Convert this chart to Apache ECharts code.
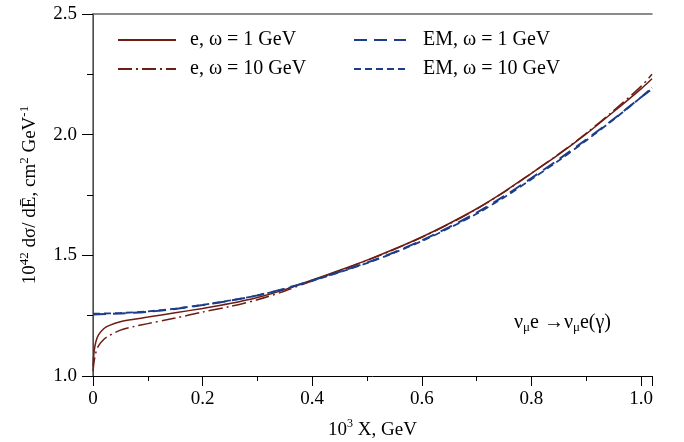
<!DOCTYPE html>
<html>
<head>
<meta charset="utf-8">
<script src="https://cdn.jsdelivr.net/npm/echarts@6/dist/echarts.min.js"></script>
<style>html,body{margin:0;padding:0;background:#fff}#c{width:684px;height:442px}</style>
</head>
<body>
<div id="c"></div>
<script>
// ---- data ----
var xE = [0, 0.002, 0.005, 0.01, 0.02, 0.03, 0.05, 0.075, 0.1, 0.15, 0.2, 0.25, 0.3, 0.35, 0.4, 0.45, 0.5, 0.55, 0.6, 0.65, 0.7, 0.75, 0.8, 0.85, 0.9, 0.95, 1.0, 1.02];
var e1 = [1.04, 1.10, 1.14, 1.17, 1.197, 1.21, 1.225, 1.235, 1.244, 1.262, 1.280, 1.300, 1.325, 1.358, 1.398, 1.438, 1.480, 1.526, 1.576, 1.632, 1.693, 1.763, 1.840, 1.918, 2.003, 2.095, 2.190, 2.232];
var e10 = [1.02, 1.06, 1.095, 1.125, 1.152, 1.168, 1.19, 1.205, 1.217, 1.240, 1.265, 1.288, 1.316, 1.352, 1.395, 1.436, 1.479, 1.525, 1.575, 1.630, 1.692, 1.762, 1.840, 1.920, 2.006, 2.100, 2.200, 2.250];
var xM = [0, 0.05, 0.1, 0.15, 0.2, 0.25, 0.3, 0.35, 0.4, 0.45, 0.5, 0.55, 0.6, 0.65, 0.7, 0.75, 0.8, 0.85, 0.9, 0.95, 1.0, 1.02];
var em1 = [1.255, 1.259, 1.266, 1.278, 1.294, 1.312, 1.334, 1.362, 1.396, 1.432, 1.470, 1.513, 1.562, 1.617, 1.677, 1.745, 1.820, 1.898, 1.980, 2.065, 2.155, 2.19];
var em10 = [1.258, 1.261, 1.268, 1.279, 1.295, 1.313, 1.334, 1.361, 1.394, 1.43, 1.468, 1.511, 1.559, 1.613, 1.672, 1.740, 1.815, 1.893, 1.976, 2.063, 2.155, 2.195];
var names = ['e, ω = 1 GeV', 'e, ω = 10 GeV', 'EM, ω = 1 GeV', 'EM, ω = 10 GeV'];
var xTicks = [0, 0.2, 0.4, 0.6, 0.8, 1.0];
var yTicks = [1.0, 1.5, 2.0, 2.5];

function pairs(xs, ys) { return xs.map(function (x, i) { return [x, ys[i]]; }); }

var FONT = 'Liberation Serif';
var RED = '#6e1d14', BLUE = '#1c3d8a';

var chart = echarts.init(document.getElementById('c'), null, {renderer: 'canvas'});
var lineSeries = function (name, data, color, type, width) {
  return {
    name: name, type: 'line', data: data, symbol: 'none', showSymbol: false, smooth: 0.3,
    xAxisIndex: 0, yAxisIndex: 0,
    lineStyle: {color: color, width: width, type: type}, itemStyle: {color: color},
    animation: false, z: 3
  };
};
chart.setOption({
  backgroundColor: '#fff',
  animation: false,
  grid: {left: 93, right: 32, top: 14, bottom: 66, outerBoundsMode: 'none', containLabel: false},
  legend: [
    {data: [names[0], names[1]], left: 112, top: 25, orient: 'vertical', itemWidth: 58, itemHeight: 14, itemGap: 9,
     itemStyle: {opacity: 0}, textStyle: {fontFamily: FONT, fontSize: 20, color: '#000', padding: [0, 0, 0, 9]}, selectedMode: false},
    {data: [names[2], names[3]], left: 348, top: 25, orient: 'vertical', itemWidth: 52, itemHeight: 14, itemGap: 9,
     itemStyle: {opacity: 0}, textStyle: {fontFamily: FONT, fontSize: 20, color: '#000', padding: [0, 0, 0, 12]}, selectedMode: false}
  ],
  xAxis: [{
    type: 'value', min: 0, max: 1.02, interval: 0.2,
    name: '{n|10}{s|3}{n| X, GeV}', nameLocation: 'middle', nameGap: 42,
    nameTextStyle: {rich: {
      n: {fontFamily: FONT, fontSize: 19, color: '#000', lineHeight: 22, verticalAlign: 'bottom'},
      s: {fontFamily: FONT, fontSize: 12, color: '#000', lineHeight: 22, verticalAlign: 'top'}
    }},
    axisLine: {show: true, onZero: false, lineStyle: {color: '#000', width: 1}},
    axisTick: {show: true, inside: false, length: 10, lineStyle: {color: '#000'}},
    minorTick: {show: true, splitNumber: 2, length: 5, lineStyle: {color: '#000'}},
    splitLine: {show: false},
    axisLabel: {fontFamily: FONT, fontSize: 19, color: '#000', margin: 14,
      formatter: function (v) { var i = xTicks.indexOf(Math.round(v * 10) / 10); if (Math.abs(v - Math.round(v * 5) / 5) > 1e-6 || i < 0) return ''; return v === 0 ? '0' : v.toFixed(1); }}
  }, {
    type: 'value', position: 'top', min: 0, max: 1.02,
    axisLine: {show: true, lineStyle: {color: '#666', width: 1.5}},
    axisTick: {show: false}, axisLabel: {show: false}, splitLine: {show: false}
  }],
  yAxis: [{
    type: 'value', min: 1.0, max: 2.5, interval: 0.5,
    name: '{n|10}{s|42}{n| dσ/ dĒ, cm}{s|2}{n| GeV}{s|-1}', nameLocation: 'middle', nameGap: 53,
    nameTextStyle: {rich: {
      n: {fontFamily: FONT, fontSize: 19, color: '#000', lineHeight: 22, verticalAlign: 'bottom'},
      s: {fontFamily: FONT, fontSize: 13, color: '#000', lineHeight: 22, verticalAlign: 'top'}
    }},
    axisLine: {show: true, onZero: false, lineStyle: {color: '#000', width: 1}},
    axisTick: {show: true, inside: false, length: 11, lineStyle: {color: '#000'}},
    minorTick: {show: true, splitNumber: 2, length: 6, lineStyle: {color: '#000'}},
    splitLine: {show: false},
    axisLabel: {fontFamily: FONT, fontSize: 19, color: '#000', margin: 16,
      formatter: function (v) { return v.toFixed(1); }}
  }, {
    type: 'value', position: 'right', min: 1.0, max: 2.5,
    axisLine: {show: true, lineStyle: {color: '#666', width: 1.5}},
    axisTick: {show: false}, axisLabel: {show: false}, splitLine: {show: false}
  }],
  graphic: [{
    type: 'text', left: 514, top: 311, z: 10,
    style: {
      text: '{a|ν}{b|μ}{a|e →ν}{b|μ}{a|e(γ)}',
      rich: {
        a: {fontFamily: FONT, fontSize: 20, fill: '#000', lineHeight: 22, verticalAlign: 'middle'},
        b: {fontFamily: FONT, fontSize: 13, fill: '#000', lineHeight: 22, verticalAlign: 'middle', padding: [10, 0, 0, 0]}
      }
    }
  }],
  series: [
    lineSeries(names[0], pairs(xE, e1), RED, 'solid', 1.5),
    lineSeries(names[1], pairs(xE, e10), RED, [14, 4, 2, 4], 1.5),
    lineSeries(names[2], pairs(xM, em1), BLUE, [13, 7], 2),
    lineSeries(names[3], pairs(xM, em10), BLUE, [7, 4], 1.8)
  ]
});
</script>
</body>
</html>
